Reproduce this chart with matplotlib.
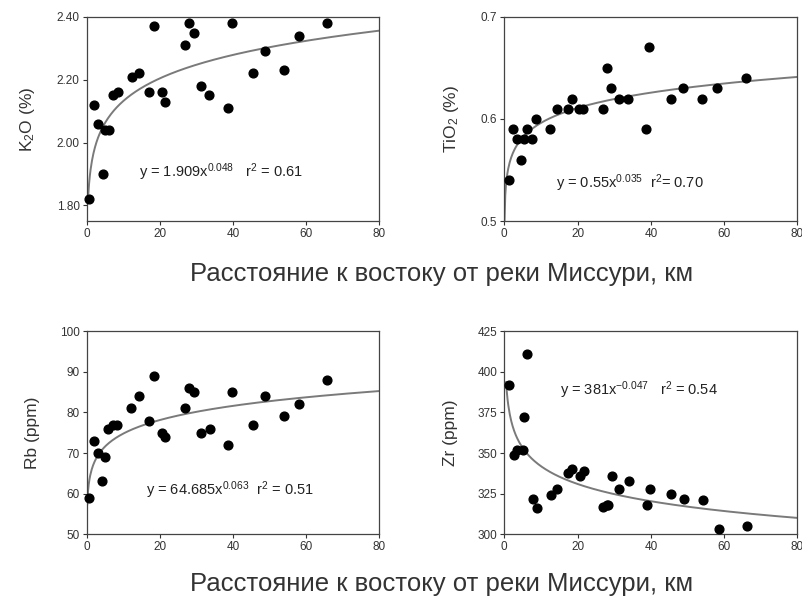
import matplotlib
matplotlib.use("Agg")
import matplotlib.pyplot as plt
import numpy as np

plt.rcParams['font.family'] = ['Liberation Sans', 'DejaVu Sans']
plt.rcParams['mathtext.fontset'] = 'custom'
plt.rcParams['mathtext.rm'] = 'Liberation Sans'
plt.rcParams['mathtext.it'] = 'Liberation Sans:italic'
plt.rcParams['mathtext.default'] = 'regular'

# Расстояние, км (общие для K2O, TiO2, Rb)
dist = [0.7, 2.1, 3.2, 4.4, 5.1, 6.0, 7.3, 8.5, 12.3, 14.3, 17.1, 18.4, 20.5,
        21.4, 26.9, 28.0, 29.3, 31.3, 33.6, 38.8, 39.7, 45.4, 48.8, 54.0, 58.0, 65.7]
k2o = [1.82, 2.12, 2.06, 1.90, 2.04, 2.04, 2.15, 2.16, 2.21, 2.22, 2.16, 2.37, 2.16,
       2.13, 2.31, 2.38, 2.35, 2.18, 2.15, 2.11, 2.38, 2.22, 2.29, 2.23, 2.34, 2.38]

dist_ti = [1.2, 2.4, 3.5, 4.6, 5.5, 6.2, 7.7, 8.7, 12.6, 14.4, 17.3, 18.5, 20.5,
           21.6, 26.9, 27.9, 29.2, 31.3, 33.8, 38.8, 39.5, 45.4, 48.8, 54.0, 58.1, 65.9]
tio2 = [0.54, 0.59, 0.58, 0.56, 0.58, 0.59, 0.58, 0.60, 0.59, 0.61, 0.61, 0.62, 0.61,
        0.61, 0.61, 0.65, 0.63, 0.62, 0.62, 0.59, 0.67, 0.62, 0.63, 0.62, 0.63, 0.64]

dist_rb = [0.7, 2.0, 3.1, 4.3, 5.1, 5.8, 7.1, 8.4, 12.2, 14.3, 17.1, 18.4, 20.5,
           21.5, 26.9, 28.1, 29.3, 31.3, 33.7, 38.8, 39.8, 45.4, 48.8, 53.9, 58.0, 65.7]
rb = [59, 73, 70, 63, 69, 76, 77, 77, 81, 84, 78, 89, 75,
      74, 81, 86, 85, 75, 76, 72, 85, 77, 84, 79, 82, 88]

dist_zr = [1.4, 2.6, 3.6, 5.0, 5.5, 6.3, 7.8, 8.9, 12.7, 14.5, 17.4, 18.6, 20.6,
           21.7, 26.9, 27.9, 28.4, 29.3, 31.4, 34.0, 38.9, 39.7, 45.4, 49.1, 54.2, 58.6, 66.2]
zr = [392, 349, 352, 352, 372, 411, 322, 316, 324, 328, 338, 340, 336,
      339, 317, 318, 318, 336, 328, 333, 318, 328, 325, 322, 321, 303, 305]

# коэффициенты степенных зависимостей y = a*x^b (из подписей)
fit_a = [1.909, 0.55, 64.685, 381]
fit_b = [0.048, 0.035, 0.063, -0.047]
fit_x0 = [0.45, 0.07, 0.15, 0.5]
labels = [r'y = 1.909x$^{0.048}$   r$^{2}$ = 0.61',
          r'y = 0.55x$^{0.035}$  r$^{2}$= 0.70',
          r'y = 64.685x$^{0.063}$  r$^{2}$ = 0.51',
          r'y = 381x$^{-0.047}$   r$^{2}$ = 0.54']
label_pos = [(14.4, 1.905), (14.2, 0.537), (16.3, 60.8), (15.1, 388.5)]

ylabels = [r'K$_{2}$O (%)', r'TiO$_{2}$ (%)', 'Rb (ppm)', 'Zr (ppm)']
ylims = [(1.75, 2.40), (0.5, 0.7), (50, 100), (300, 425)]
yticks = [[1.80, 2.00, 2.20, 2.40], [0.5, 0.6, 0.7], [50, 60, 70, 80, 90, 100],
          [300, 325, 350, 375, 400, 425]]
yfmt = ['{:.2f}', '{:.1f}', '{:.0f}', '{:.0f}']

xs = [dist, dist_ti, dist_rb, dist_zr]
ys = [k2o, tio2, rb, zr]

fig = plt.figure(figsize=(8.03, 6.01), dpi=100)
boxes = [[0.108, 0.632, 0.364, 0.340], [0.628, 0.632, 0.365, 0.340],
         [0.108, 0.111, 0.364, 0.338], [0.628, 0.111, 0.365, 0.338]]

for i in range(4):
    ax = fig.add_axes(boxes[i])
    xx = np.linspace(fit_x0[i], 80, 400)
    ax.plot(xx, fit_a[i] * xx ** fit_b[i], color='#7a7a7a', lw=1.4, zorder=2)
    ax.plot(xs[i], ys[i], 'o', color='black', ms=6.3, zorder=3, clip_on=False)
    ax.set_xlim(0, 80)
    ax.set_ylim(*ylims[i])
    ax.set_xticks([0, 20, 40, 60, 80])
    ax.set_yticks(yticks[i])
    ax.set_yticklabels([yfmt[i].format(v) for v in yticks[i]])
    ax.tick_params(labelsize=8.5, length=3, width=0.8, colors='#333333', pad=2)
    for sp in ax.spines.values():
        sp.set_color('#444444')
        sp.set_linewidth(0.9)
    ax.set_ylabel(ylabels[i], fontsize=12.5, color='#333333', labelpad=14)
    ax.text(label_pos[i][0], label_pos[i][1], labels[i], fontsize=10.5,
            va='center', ha='left', color='#222222')

fig.text(0.55, 1 - 274 / 601, 'Расстояние к востоку от реки Миссури, км',
         ha='center', va='center', fontsize=18.5, color='#333333')
fig.text(0.55, 1 - 584 / 601, 'Расстояние к востоку от реки Миссури, км',
         ha='center', va='center', fontsize=18.5, color='#333333')

fig.savefig('out.png', dpi=100)
